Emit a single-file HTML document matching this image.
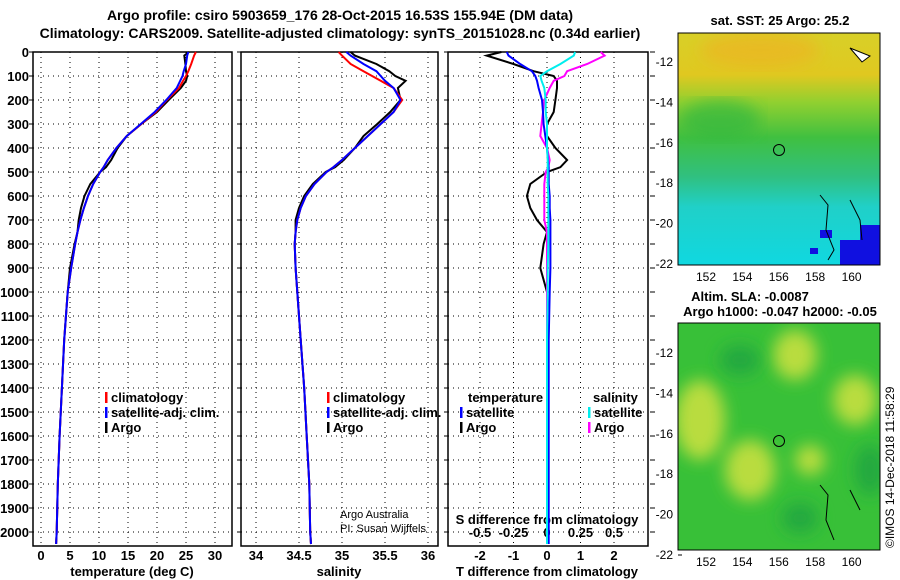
<!DOCTYPE html>
<html><head><meta charset="utf-8"><style>
body{margin:0;background:#fff}
svg{display:block;font-family:"Liberation Sans",sans-serif}
.b{font-weight:bold;font-size:13px}
.t{font-weight:bold;font-size:14px}
</style></head><body>
<svg id="c" width="900" height="580" viewBox="0 0 900 580">
<defs>
<linearGradient id="sst" x1="0" y1="0" x2="0" y2="1">
<stop offset="0" stop-color="#d8d028"/><stop offset="0.18" stop-color="#e0c820"/><stop offset="0.3" stop-color="#90d030"/><stop offset="0.45" stop-color="#40c040"/><stop offset="0.62" stop-color="#30c080"/><stop offset="0.75" stop-color="#20d0c8"/><stop offset="1" stop-color="#10d8e0"/>
</linearGradient>
<filter id="bl"><feGaussianBlur stdDeviation="8"/></filter>
<clipPath id="m1"><rect x="678" y="33" width="202" height="232"/></clipPath>
<clipPath id="m2"><rect x="678" y="323" width="202" height="227"/></clipPath>
</defs>
<text x="340" y="20" text-anchor="middle" class="t">Argo profile: csiro 5903659_176 28-Oct-2015 16.53S 155.94E (DM data)</text>
<text x="340" y="38" text-anchor="middle" class="t">Climatology: CARS2009. Satellite-adjusted climatology: synTS_20151028.nc (0.34d earlier)</text>
<g id="g"></g>
<g clip-path="url(#m1)">
<rect x="678" y="33" width="202" height="232" fill="url(#sst)"/>
<ellipse cx="760" cy="50" rx="60" ry="18" fill="#f0b020" opacity="0.6" filter="url(#bl)"/>
<ellipse cx="720" cy="120" rx="40" ry="20" fill="#30b840" opacity="0.7" filter="url(#bl)"/>
<g fill="#1010e0"><rect x="840" y="240" width="40" height="25"/><rect x="820" y="230" width="12" height="8"/><rect x="860" y="225" width="20" height="15"/><rect x="810" y="248" width="8" height="6"/></g>
<path d="M820 195 l8 10 l-2 25 l8 20 l-6 10 M850 200 l10 20 l2 20" stroke="#000" fill="none"/>
<path d="M850 48 l20 8 l-8 6 z" stroke="#000" fill="#fff"/>
</g>
<rect x="678" y="33" width="202" height="232" fill="none" stroke="#000"/>
<circle cx="779" cy="150" r="5.5" fill="none" stroke="#000"/>
<text x="780" y="25" text-anchor="middle" class="b">sat. SST: 25 Argo: 25.2</text>
<g clip-path="url(#m2)">
<rect x="678" y="323" width="202" height="227" fill="#38c038"/>
<g fill="#c8e040" filter="url(#bl)" opacity="0.9"><ellipse cx="795" cy="355" rx="22" ry="25"/><ellipse cx="700" cy="420" rx="25" ry="40"/><ellipse cx="750" cy="470" rx="25" ry="30"/><ellipse cx="855" cy="400" rx="22" ry="25"/><ellipse cx="810" cy="460" rx="15" ry="15"/></g>
<g fill="#20a840" filter="url(#bl)"><ellipse cx="800" cy="518" rx="18" ry="15"/><ellipse cx="740" cy="360" rx="20" ry="15"/><ellipse cx="870" cy="470" rx="15" ry="25"/></g>
<path d="M820 485 l8 10 l-2 25 l8 20 M850 490 l10 20" stroke="#000" fill="none"/>
</g>
<rect x="678" y="323" width="202" height="227" fill="none" stroke="#000"/>
<circle cx="779" cy="441" r="5.5" fill="none" stroke="#000"/>
<text x="750" y="301" text-anchor="middle" class="b">Altim. SLA: -0.0087</text>
<text x="780" y="316" text-anchor="middle" class="b">Argo h1000: -0.047 h2000: -0.05</text>
<text x="0" y="0" transform="translate(894,548) rotate(-90)" font-size="12">©IMOS 14-Dec-2018 11:58:29</text>
<text x="340" y="518" font-size="11">Argo Australia</text>
<text x="340" y="532" font-size="11">PI: Susan Wijffels</text>
</svg>
<script>
const depths=[0,15,50,80,100,120,150,200,250,300,350,400,450,480,500,550,600,650,700,750,800,900,1000,1200,1400,1600,1800,2000,2050];
const tClim=[26.7,26.4,25.9,25.4,25.0,24.5,23.8,21.7,19.8,17.3,14.8,13.0,11.5,10.8,10.2,9.0,8.1,7.4,6.8,6.3,5.9,5.2,4.6,4.0,3.6,3.2,2.9,2.7,2.6];
const tSat=[25.4,25.2,25.0,24.6,24.4,24.0,23.4,21.6,19.6,17.2,14.8,13.0,11.5,10.8,10.2,9.0,8.1,7.4,6.8,6.3,5.9,5.2,4.6,4.0,3.6,3.2,2.9,2.7,2.6];
const tArgo=[25.5,24.7,24.9,25.0,25.2,25.0,24.1,22.0,20.0,17.3,14.8,13.2,12.1,11.2,10.2,8.5,7.5,6.9,6.5,6.3,5.8,5.0,4.6,4.0,3.6,3.2,2.9,2.7,2.6];
const sClim=[34.96,35.0,35.1,35.25,35.35,35.45,35.6,35.7,35.6,35.45,35.3,35.15,35.0,34.9,34.82,34.68,34.58,34.52,34.48,34.46,34.45,34.46,34.48,34.52,34.56,34.59,34.62,34.63,34.64];
const sSat=[35.05,35.1,35.25,35.4,35.45,35.5,35.6,35.68,35.6,35.45,35.3,35.15,35.0,34.9,34.82,34.68,34.58,34.52,34.48,34.46,34.45,34.46,34.48,34.52,34.56,34.59,34.62,34.63,34.64];
const sArgo=[35.1,35.15,35.4,35.55,35.62,35.74,35.65,35.68,35.56,35.41,35.25,35.15,35.02,34.92,34.81,34.66,34.56,34.5,34.46,34.46,34.45,34.46,34.48,34.52,34.56,34.59,34.62,34.63,34.64];
const dTsat=[-1.2,-1.15,-0.8,-0.45,-0.35,-0.3,-0.25,-0.15,-0.12,-0.1,-0.05,0,0.03,0.05,0.05,0.05,0.08,0.08,0.1,0.1,0.1,0.1,0.08,0.05,0.05,0.05,0.05,0.05,0.05];
const dTargo=[-1.36,-1.8,-1.0,-0.4,0.2,0.3,0.3,0.25,0.2,0,0,0.25,0.6,0.4,0,-0.5,-0.6,-0.5,-0.3,0,-0.1,-0.2,0,0,0,0,0,0,0];
const dSsat=[0.21,0.2,0.1,0.0,-0.05,-0.04,-0.02,-0.01,-0.01,0,0,0,0.005,0.005,0.005,0.005,0.01,0.01,0.01,0.01,0.01,0.005,0.005,0,0,0,0,0,0];
const dSargo=[0.4,0.43,0.3,0.15,0.13,0.05,0.02,-0.02,-0.03,-0.04,-0.05,0,0.02,0.01,-0.01,-0.02,-0.02,-0.02,-0.02,0,0,0,0,0,0,0,0,0,0];
const depthTicks=[0,100,200,300,400,500,600,700,800,900,1000,1100,1200,1300,1400,1500,1600,1700,1800,1900,2000];
const tTicks=[0,5,10,15,20,25,30];
const sTicks=[34,34.5,35,35.5,36];
const sTickLabels=["34","34.5","35","35.5","36"];
const dTTicks=[-2,-1,0,1,2];
const dSTicks=[-0.5,-0.25,0,0.25,0.5];
const dSTickLabels=["-0.5","-0.25","0","0.25","0.5"];
const lonTicks=[152,154,156,158,160];
const latTicks=[-12,-14,-16,-18,-20,-22];

const NS="http://www.w3.org/2000/svg";
const G=document.getElementById('g');
function mk(t,a,p){const e=document.createElementNS(NS,t);for(const k in a)e.setAttribute(k,a[k]);(p||G).appendChild(e);return e;}
const Y=d=>52+d*0.24;
const pTop=52,pBot=546;
const panels=[
 {x0:33,x1:232,fx:v=>41+v*5.8,name:'temperature-panel'},
 {x0:241,x1:438,fx:v=>256+(v-34)*86,name:'salinity-panel'},
 {x0:448,x1:648,fx:v=>547+v*33.5,name:'difference-panel'}
];
panels.forEach((p,i)=>{
 const g=mk('g',{});
 
 
 const ticks=i==0?tTicks:i==1?sTicks:dTTicks;
 ticks.forEach(v=>{const x=p.fx(v);const l=mk('line',{x1:x,x2:x,y1:pTop,y2:pBot,stroke:'#000','stroke-dasharray':'1 4'},g);
   
   });
 depthTicks.forEach(d=>{const y=Y(d);const l=mk('line',{x1:p.x0,x2:p.x1,y1:y,y2:y,stroke:'#000','stroke-dasharray':'1 4'},g);
   
   
   const tk=mk('line',{x1:p.x0-4,x2:p.x0,y1:y,y2:y,stroke:'#000'},g);
   
   });
 const r=mk('rect',{x:p.x0,y:pTop,width:p.x1-p.x0,height:pBot-pTop,fill:'none',stroke:'#000','stroke-width':1.5},g);
 
 
 const labs=i==0?tTicks.map(String):i==1?sTickLabels:dTTicks.map(String);
 ticks.forEach((v,k)=>{const t=mk('text',{x:p.fx(v),y:560,'text-anchor':'middle','class':'b'},g);t.textContent=labs[k];
   
   });
});
depthTicks.forEach(d=>{const t=mk('text',{x:29,y:Y(d)+5,'text-anchor':'end','class':'b'});t.textContent=d;
 
 });
depthTicks.forEach(d=>{const l=mk('line',{x1:650,x2:655,y1:Y(d),y2:Y(d),stroke:'#000'});
 
 });
const sx=v=>547+v*4*33.5;
dSTicks.forEach((v,k)=>{const t=mk('text',{x:sx(v),y:537,'text-anchor':'middle','class':'b'});t.textContent=dSTickLabels[k];
 
 });
const st=mk('text',{x:547,y:524,'text-anchor':'middle','class':'b'});st.textContent='S difference from climatology';


[['temperature (deg C)',132,'t-axis-title'],['salinity',339,'s-profile-axis-title'],['T difference from climatology',547,'tdiff-axis-title']].forEach(a=>{
 const t=mk('text',{x:a[1],y:576,'text-anchor':'middle','class':'b'});t.textContent=a[0];
 
 });
function line(vals,fx,col,name,w){const pts=depths.map((d,i)=>fx(vals[i]).toFixed(1)+','+Y(d).toFixed(1)).join(' ');
 const l=mk('polyline',{points:pts,fill:'none',stroke:col,'stroke-width':w||2});
 
 }
const fT=panels[0].fx,fS=panels[1].fx,fD=panels[2].fx;
line(tArgo,fT,'#000','temp-argo-line');line(tClim,fT,'#f00','temp-climatology-line');line(tSat,fT,'#00f','temp-satellite-line');
line(sArgo,fS,'#000','sal-argo-line');line(sClim,fS,'#f00','sal-climatology-line');line(sSat,fS,'#00f','sal-satellite-line');
line(dTargo,fD,'#000','tdiff-argo-line');line(dSargo,sx,'#f0f','sdiff-argo-line');line(dTsat,fD,'#00f','tdiff-satellite-line');line(dSsat,sx,'#0ee','sdiff-satellite-line');
function leg(x,y,col,txt,name){const r=mk('rect',{x:x,y:y-10,width:2.5,height:11,fill:col});
 
 
 const t=mk('text',{x:x+6,y:y,'class':'b'});t.textContent=txt;
 
 }
leg(105,402,'#f00','climatology','legend-climatology');leg(105,417,'#00f','satellite-adj. clim.','legend-satellite');leg(105,432,'#000','Argo','legend-argo');
leg(327,402,'#f00','climatology','legend2-climatology');leg(327,417,'#00f','satellite-adj. clim.','legend2-satellite');leg(327,432,'#000','Argo','legend2-argo');
const lt=mk('text',{x:468,y:402,'class':'b'});lt.textContent='temperature';


const ls=mk('text',{x:593,y:402,'class':'b'});ls.textContent='salinity';


leg(460,417,'#00f','satellite','legend-tdiff-satellite');leg(460,432,'#000','Argo','legend-tdiff-argo');
leg(588,417,'#0ee','satellite','legend-sdiff-satellite');leg(588,432,'#f0f','Argo','legend-sdiff-argo');
const lonX=v=>706+(v-152)*18.2;
[[265,278,62],[550,563,353]].forEach(m=>{
 lonTicks.forEach(v=>{const t=mk('text',{x:lonX(v),y:m[1]+3,'text-anchor':'middle','font-size':12});t.textContent=v;
  
  
  const l=mk('line',{x1:lonX(v),x2:lonX(v),y1:m[0],y2:m[0]-4,stroke:'#000'});
  
  });
 latTicks.forEach(v=>{const y=m[2]+(-12-v)*20.2;const t=mk('text',{x:673,y:y+4,'text-anchor':'end','font-size':12});t.textContent=v;
  
  
  const l=mk('line',{x1:678,x2:682,y1:y,y2:y,stroke:'#000'});
  
  });
});
</script>
</body></html>
